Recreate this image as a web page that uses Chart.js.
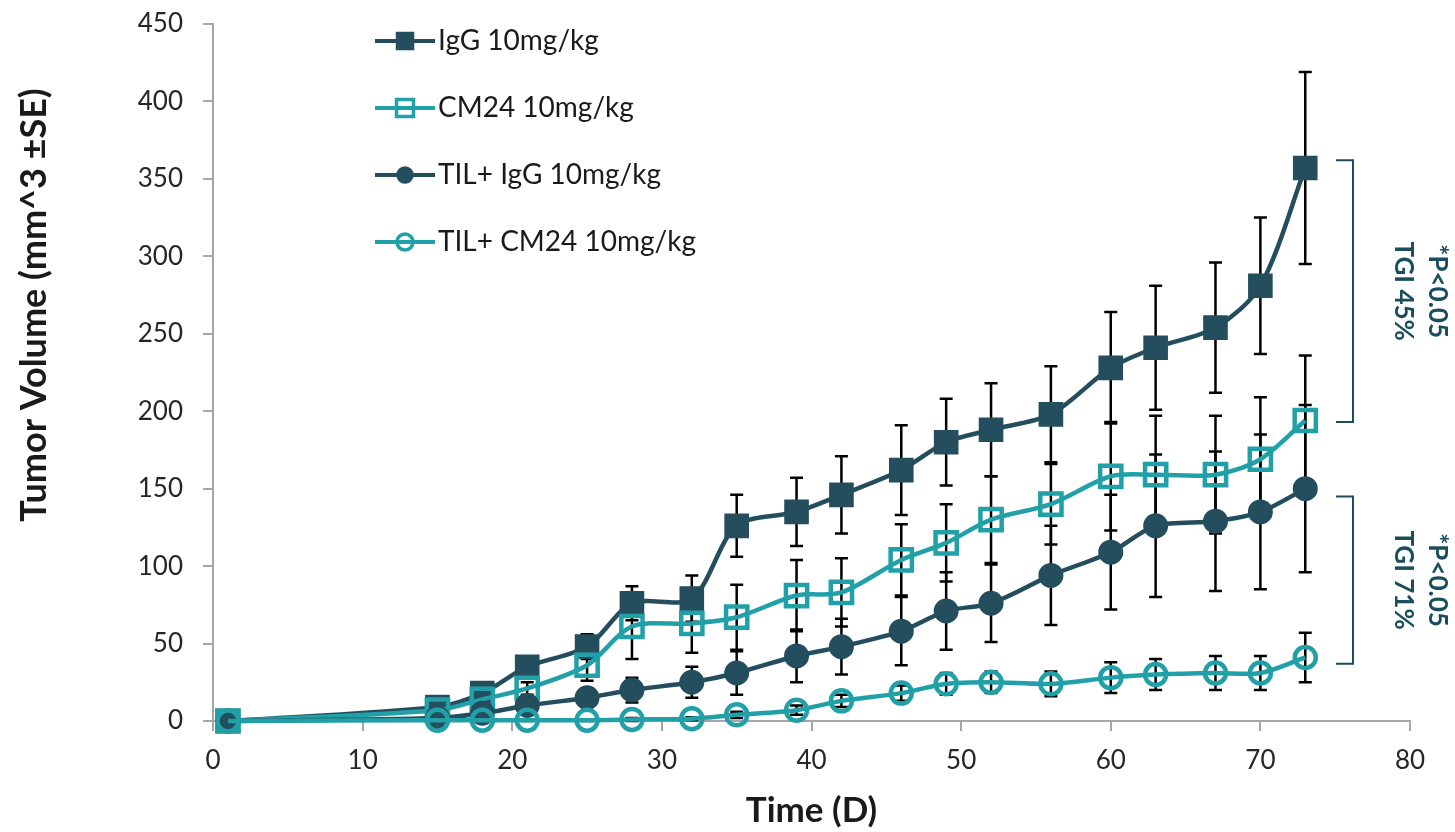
<!DOCTYPE html>
<html>
<head>
<meta charset="utf-8">
<title>Tumor Volume</title>
<script src="https://cdn.jsdelivr.net/npm/chart.js@4.4.1/dist/chart.umd.min.js"></script>
<style>
    html, body { margin: 0; padding: 0; background: #ffffff; }
    #wrap { width: 1455px; height: 832px; }
</style>
</head>
<body>
<div id="wrap"><canvas id="tumor-chart" width="1455" height="832"></canvas></div>
<script>
// Study days (x axis)
const days = [1, 15, 18, 21, 25, 28, 32, 35, 39, 42, 46, 49, 52, 56, 60, 63, 67, 70, 73];

// Mean tumor volume per group (mm^3)
const iggMean      = [0, 9, 18, 35, 48, 76, 79, 126, 135, 146, 162, 180, 188, 198, 228, 241, 254, 281, 357];
const cm24Mean     = [0, 7, 14, 21, 36, 61, 63, 67, 81, 83, 104, 115, 130, 140, 158, 159, 159, 169, 194];
const tilIggMean   = [0, 2, 5, 10, 15, 20, 25, 31, 42, 48, 58, 71, 76, 94, 109, 126, 129, 135, 150];
const tilCm24Mean  = [0, 0.5, 0.5, 0.5, 0.5, 1, 1.5, 4, 7, 13, 18, 24, 25, 24, 28, 30, 31, 31, 41];

// Standard error per group
const iggSE        = [0, 2, 3, 4, 8, 11, 15, 20, 22, 25, 29, 28, 30, 31, 36, 40, 42, 44, 62];
const cm24SE       = [0, 2, 3, 4, 10, 21, 19, 21, 23, 22, 23, 25, 28, 26, 35, 38, 38, 40, 42];
const tilIggSE     = [0, 1, 2, 4, 6, 8, 10, 14, 17, 18, 22, 25, 25, 32, 37, 46, 45, 50, 54];
const tilCm24SE    = [0, 0.5, 0.5, 0.5, 0.5, 1, 1, 2, 3, 4, 5, 7, 7, 8, 10, 10, 11, 11, 16];

const seriesLabels = ['IgG 10mg/kg', 'CM24 10mg/kg', 'TIL+ IgG 10mg/kg', 'TIL+ CM24 10mg/kg'];

// Axis ticks
const xTicks = { min: 0, max: 80, step: 10 };
const yTicks = { min: 0, max: 450, step: 50 };

// Significance brackets: [from, to] in tumor volume, with their labels
const bracketRanges = [[362, 193], [145, 37]];
const bracketLabels = [['*P<0.05', 'TGI 45%'], ['*P<0.05', 'TGI 71%']];

const DARK = '#244E5E';
const TEAL = '#22A0A8';
const NOTE = '#1A4D5E';

Chart.defaults.font.family = 'Lato';

function toPoints(values) {
    return days.map((d, i) => ({ x: d, y: values[i] }));
}

const errors = [iggSE, cm24SE, tilIggSE, tilCm24SE];

// black SE whiskers, drawn under the series
const errorBarPlugin = {
    id: 'errorBars',
    beforeDatasetsDraw(chart) {
        const { ctx, scales: { x, y } } = chart;
        ctx.save();
        ctx.strokeStyle = '#000';
        ctx.lineWidth = 2.5;
        chart.data.datasets.forEach((ds, di) => {
            ds.data.forEach((p, i) => {
                const e = errors[di][i];
                if (!e) return;
                const px = x.getPixelForValue(p.x);
                const top = y.getPixelForValue(p.y + e);
                const bot = y.getPixelForValue(p.y - e);
                ctx.beginPath();
                ctx.moveTo(px, top); ctx.lineTo(px, bot);
                ctx.moveTo(px - 6.5, top); ctx.lineTo(px + 6.5, top);
                ctx.moveTo(px - 6.5, bot); ctx.lineTo(px + 6.5, bot);
                ctx.stroke();
            });
        });
        ctx.restore();
    }
};

function drawMarker(ctx, style, filled, color, cx, cy, r) {
    ctx.beginPath();
    if (style === 'rect') ctx.rect(cx - r, cy - r, 2 * r, 2 * r);
    else ctx.arc(cx, cy, r, 0, Math.PI * 2);
    if (filled) { ctx.fillStyle = color; ctx.fill(); }
    ctx.lineWidth = filled ? 1.5 : 3.5;
    ctx.strokeStyle = color;
    ctx.stroke();
}

// legend, y title, brackets
const decorPlugin = {
    id: 'decor',
    afterDraw(chart) {
        const { ctx, chartArea, scales: { y } } = chart;
        ctx.save();

        // legend inside the plot
        const styles = [['rect', true], ['rect', false], ['circle', true], ['circle', false]];
        chart.data.datasets.forEach((ds, i) => {
            const ly = 41 + i * 67;
            ctx.strokeStyle = ds.borderColor;
            ctx.lineWidth = 4;
            ctx.beginPath();
            ctx.moveTo(375, ly); ctx.lineTo(435, ly);
            ctx.stroke();
            drawMarker(ctx, styles[i][0], styles[i][1], ds.borderColor, 405, ly, styles[i][0] === 'rect' ? 8.5 : 8);
            ctx.fillStyle = '#1a1a1a';
            ctx.font = '28px Lato';
            ctx.textAlign = 'left';
            ctx.textBaseline = 'middle';
            ctx.fillText(ds.label, 438, ly);
        });

        // y axis title
        ctx.save();
        ctx.translate(34, 305);
        ctx.rotate(-Math.PI / 2);
        ctx.fillStyle = '#1a1a1a';
        ctx.font = 'bold 36px Lato';
        ctx.textAlign = 'center';
        ctx.textBaseline = 'middle';
        ctx.fillText('Tumor Volume (mm^3 \u00B1SE)', 0, 0);
        ctx.restore();

        // brackets
        const bx = chartArea.right - 57;
        bracketRanges.forEach((rng, i) => {
            const t = y.getPixelForValue(rng[0]);
            const b = y.getPixelForValue(rng[1]);
            ctx.strokeStyle = NOTE;
            ctx.lineWidth = 2;
            ctx.beginPath();
            ctx.moveTo(bx - 17, t); ctx.lineTo(bx, t);
            ctx.lineTo(bx, b); ctx.lineTo(bx - 17, b);
            ctx.stroke();

            const mid = (t + b) / 2;
            ctx.save();
            ctx.translate(bx, mid);
            ctx.rotate(Math.PI / 2);
            ctx.fillStyle = NOTE;
            ctx.font = 'bold 26px Lato';
            ctx.textAlign = 'center';
            ctx.textBaseline = 'middle';
            ctx.fillText(bracketLabels[i][0], 0, -84);
            ctx.fillText(bracketLabels[i][1], 0, -50);
            ctx.restore();
        });
        ctx.restore();
    }
};

const ctxTumor = document.getElementById('tumor-chart').getContext('2d');
const tumorChart = new Chart(ctxTumor, {
    type: 'line',
    data: {
        datasets: [{
            label: seriesLabels[0],
            data: toPoints(iggMean),
            borderColor: DARK,
            backgroundColor: DARK,
            pointStyle: 'rect',
            pointRadius: 16,
            pointBorderWidth: 2,
            pointBackgroundColor: DARK,
            order: 4
        }, {
            label: seriesLabels[1],
            data: toPoints(cm24Mean),
            borderColor: TEAL,
            backgroundColor: 'rgba(0,0,0,0)',
            pointStyle: 'rect',
            pointRadius: 15,
            pointBorderWidth: 4.5,
            pointBackgroundColor: 'rgba(0,0,0,0)',
            order: 3
        }, {
            label: seriesLabels[2],
            data: toPoints(tilIggMean),
            borderColor: DARK,
            backgroundColor: DARK,
            pointStyle: 'circle',
            pointRadius: 11.5,
            pointBorderWidth: 2,
            pointBackgroundColor: DARK,
            order: 2
        }, {
            label: seriesLabels[3],
            data: toPoints(tilCm24Mean),
            borderColor: TEAL,
            backgroundColor: 'rgba(0,0,0,0)',
            pointStyle: 'circle',
            pointRadius: 10.5,
            pointBorderWidth: 4.5,
            pointBackgroundColor: 'rgba(0,0,0,0)',
            order: 1
        }]
    },
    options: {
        responsive: false,
        devicePixelRatio: 1,
        animation: false,
        clip: false,
        layout: { autoPadding: false, padding: { top: 24, right: 45, left: 0, bottom: 0 } },
        elements: {
            line: { borderWidth: 4.5, tension: 0.3, fill: false },
            point: { hoverRadius: 11 }
        },
        plugins: {
            legend: { display: false },
            tooltip: { enabled: false }
        },
        scales: {
            x: {
                type: 'linear',
                min: xTicks.min,
                max: xTicks.max,
                ticks: { stepSize: xTicks.step, color: '#262626', font: { size: 26 }, padding: 14 },
                grid: { drawOnChartArea: false, tickLength: 10, color: '#a6a6a6', lineWidth: 2 },
                border: { color: '#a6a6a6', width: 2 },
                title: {
                    display: true,
                    text: 'Time (D)',
                    color: '#1a1a1a',
                    font: { size: 35, weight: 'bold' },
                    padding: { top: 0, bottom: 0 }
                },
                afterFit(scale) {
                    scale.height = 111;
                    scale.paddingLeft = 0;
                    scale.paddingRight = 0;
                }
            },
            y: {
                min: yTicks.min,
                max: yTicks.max,
                ticks: { stepSize: yTicks.step, color: '#262626', font: { size: 26 }, padding: 20 },
                grid: { drawOnChartArea: false, tickLength: 10, color: '#a6a6a6', lineWidth: 2 },
                border: { color: '#a6a6a6', width: 2 },
                afterFit(scale) {
                    scale.width = 213;
                    scale.paddingTop = 0;
                    scale.paddingBottom = 0;
                }
            }
        }
    },
    plugins: [errorBarPlugin, decorPlugin]
});
</script>
</body>
</html>
